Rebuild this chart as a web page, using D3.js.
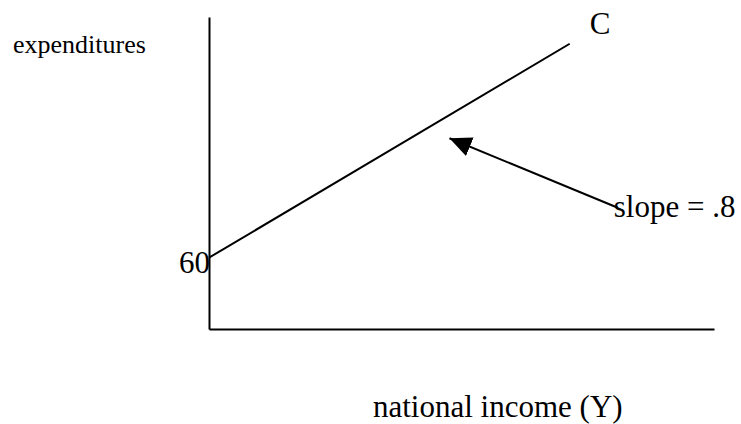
<!DOCTYPE html>
<html>
<head>
<meta charset="utf-8">
<script src="https://cdn.jsdelivr.net/npm/d3@7"></script>
<style>
  body { margin: 0; background: #fff; }
  svg text { font-family: "Times New Roman", "Liberation Serif", serif; fill: #000; }
</style>
</head>
<body>
<svg id="chart"></svg>
<script>
// consumption function C = 60 + .8Y
var incomeValues = [0, 300];
var consumptionValues = [60, 300];
var interceptTicks = [60];
var seriesName = "C";
var slopeLabel = "slope = .8";
var yLabel = "expenditures";
var xLabel = "national income (Y)";

var W = 741, H = 424;

var svg = d3.select("#chart")
  .attr("width", W)
  .attr("height", H);

var x = d3.scaleLinear().domain([0, 420]).range([209, 714]);
var y = d3.scaleLinear().domain([-20, 330]).range([329, 17]);

// axes, no ticks, just the lines
var yAxis = svg.append("g")
  .attr("transform", "translate(" + x(0) + ",0)")
  .call(d3.axisLeft(y).tickValues(interceptTicks).tickSize(0).tickSizeOuter(0).tickPadding(-1));
yAxis.select(".domain").attr("stroke", "#000").attr("stroke-width", 2);
yAxis.selectAll("text")
  .attr("font-size", 31)
  .attr("font-family", null)
  .attr("dy", "0.48em");

var xAxis = svg.append("g")
  .attr("transform", "translate(0," + y.range()[0] + ")")
  .call(d3.axisBottom(x).tickValues([]).tickSizeOuter(0));
xAxis.select(".domain").attr("stroke", "#000").attr("stroke-width", 2);

// the C line
var pts = incomeValues.map(function (d, i) { return [d, consumptionValues[i]]; });
var line = d3.line()
  .x(function (d) { return x(d[0]); })
  .y(function (d) { return y(d[1]); });

svg.append("path")
  .datum(pts)
  .attr("d", line)
  .attr("fill", "none")
  .attr("stroke", "#000")
  .attr("stroke-width", 2);

var last = pts[pts.length - 1];
svg.append("text")
  .attr("x", x(last[0]) + 20)
  .attr("y", y(last[1]) - 10)
  .attr("font-size", 31)
  .text(seriesName);

// arrow pointing at the line
svg.append("defs").append("marker")
  .attr("id", "head")
  .attr("viewBox", "0 0 22 20")
  .attr("refX", 22)
  .attr("refY", 10)
  .attr("markerWidth", 22)
  .attr("markerHeight", 20)
  .attr("markerUnits", "userSpaceOnUse")
  .attr("orient", "auto")
  .append("path")
  .attr("d", "M0,0L22,10L0,20Z")
  .attr("fill", "#000");

var arrowFrom = [340, 116], arrowTo = [200, 194];
svg.append("line")
  .attr("x1", x(arrowFrom[0]))
  .attr("y1", y(arrowFrom[1]))
  .attr("x2", x(arrowTo[0]))
  .attr("y2", y(arrowTo[1]))
  .attr("stroke", "#000")
  .attr("stroke-width", 2)
  .attr("marker-end", "url(#head)");

svg.append("text")
  .attr("x", x(arrowFrom[0]) - 4)
  .attr("y", y(arrowFrom[1]) + 9)
  .attr("font-size", 31)
  .text(slopeLabel);

// axis labels
svg.append("text")
  .attr("x", 13)
  .attr("y", 53)
  .attr("font-size", 26)
  .text(yLabel);

svg.append("text")
  .attr("x", 373)
  .attr("y", 417)
  .attr("font-size", 31)
  .text(xLabel);
</script>
</body>
</html>
